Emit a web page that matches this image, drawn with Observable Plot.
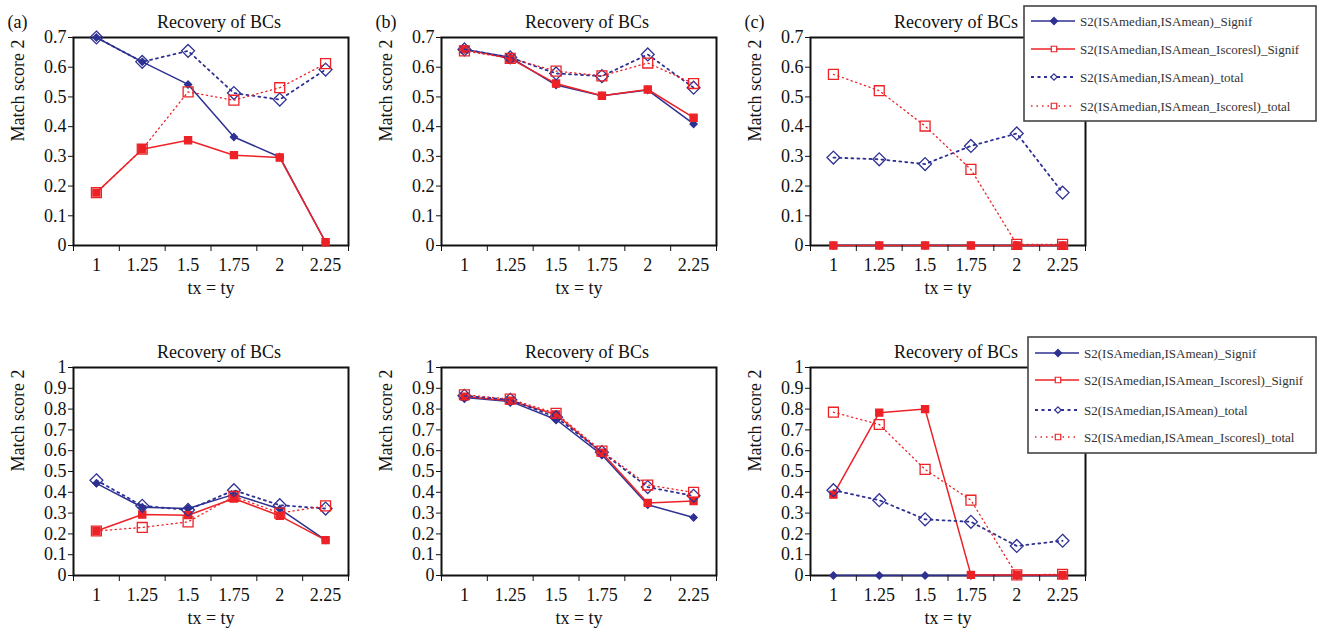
<!DOCTYPE html>
<html><head><meta charset="utf-8">
<script src="https://cdn.jsdelivr.net/npm/d3@7"></script>
<script src="https://cdn.jsdelivr.net/npm/@observablehq/plot@0.6"></script>
<style>
body{margin:0;background:#fff;font-family:"Liberation Serif","DejaVu Serif","Times New Roman",Times,serif;}
#chart{position:relative;width:1318px;height:632px;overflow:hidden;background:#fff;}
#chart svg, #chart svg text{font-family:"Liberation Serif","DejaVu Serif","Times New Roman",Times,serif !important;}
</style></head><body><div id="chart"></div>
<script>
// ---------- data ----------
const xCats = [1, 1.25, 1.5, 1.75, 2, 2.25];
const xTickLabels = ["1", "1.25", "1.5", "1.75", "2", "2.25"];
const yTicksTop = [0, 0.1, 0.2, 0.3, 0.4, 0.5, 0.6, 0.7];
const yTicksBottom = [0, 0.1, 0.2, 0.3, 0.4, 0.5, 0.6, 0.7, 0.8, 0.9, 1];
const seriesNames = [
  "S2(ISAmedian,ISAmean)_Signif",
  "S2(ISAmedian,ISAmean_Iscoresl)_Signif",
  "S2(ISAmedian,ISAmean)_total",
  "S2(ISAmedian,ISAmean_Iscoresl)_total"
];
const panelLabels = ["(a)", "(b)", "(c)"];
const chartTitle = "Recovery of BCs";
const xLabel = "tx = ty";
const yLabel = "Match score 2";

const a_meanSignif = [0.70, 0.618, 0.542, 0.365, 0.298, 0.011];
const a_iscSignif  = [0.178, 0.324, 0.354, 0.304, 0.296, 0.011];
const a_meanTotal  = [0.70, 0.618, 0.655, 0.513, 0.491, 0.592];
const a_iscTotal   = [0.178, 0.324, 0.517, 0.489, 0.531, 0.612];

const b_meanSignif = [0.66, 0.633, 0.54, 0.504, 0.523, 0.409];
const b_iscSignif  = [0.66, 0.629, 0.545, 0.504, 0.525, 0.43];
const b_meanTotal  = [0.66, 0.633, 0.579, 0.57, 0.643, 0.531];
const b_iscTotal   = [0.655, 0.63, 0.587, 0.571, 0.614, 0.545];

const c_meanSignif = [0, 0, 0, 0, 0, 0];
const c_iscSignif  = [0, 0, 0, 0, 0, 0];
const c_meanTotal  = [0.296, 0.29, 0.274, 0.335, 0.377, 0.178];
const c_iscTotal   = [0.576, 0.521, 0.402, 0.256, 0.004, 0.004];

const d_meanSignif = [0.443, 0.328, 0.322, 0.39, 0.32, 0.17];
const d_iscSignif  = [0.214, 0.293, 0.29, 0.37, 0.287, 0.17];
const d_meanTotal  = [0.458, 0.335, 0.315, 0.41, 0.338, 0.322];
const d_iscTotal   = [0.214, 0.231, 0.258, 0.38, 0.30, 0.335];

const e_meanSignif = [0.856, 0.837, 0.75, 0.58, 0.34, 0.279];
const e_iscSignif  = [0.86, 0.84, 0.774, 0.59, 0.349, 0.358];
const e_meanTotal  = [0.864, 0.845, 0.761, 0.593, 0.425, 0.383];
const e_iscTotal   = [0.869, 0.848, 0.78, 0.598, 0.435, 0.4];

const f_meanSignif = [0, 0, 0, 0, 0, 0];
const f_iscSignif  = [0.389, 0.783, 0.80, 0.003, 0.003, 0.003];
const f_meanTotal  = [0.41, 0.362, 0.27, 0.258, 0.142, 0.167];
const f_iscTotal   = [0.785, 0.726, 0.51, 0.362, 0.003, 0.006];

// ---------- styles ----------
const BLUE = "#2e3192", RED = "#ec2227";
const FONT = '"Liberation Serif","DejaVu Serif","Times New Roman",Times,serif';
const styles = [
  {color: BLUE, width: 1.5, dash: null, symbol: "diamond2", r: 3.2, filled: true},
  {color: RED, width: 1.5, dash: null, symbol: "square", r: 4.0, filled: true},
  {color: BLUE, width: 1.8, dash: "2,4", symbol: "diamond2", r: 5.8, filled: false},
  {color: RED, width: 1.3, dash: "1.2,3.5", symbol: "square", r: 5.6, filled: false}
];

const chart = document.getElementById("chart");
const xBounds = xCats.map(v => v - 0.125).concat([xCats[xCats.length - 1] + 0.125]);

function panel({series, left, top, height, yMax, yTicks, label}) {
  const marks = [Plot.frame({stroke: "#111", strokeWidth: 2})];
  series.forEach((vals, k) => {
    const st = styles[k];
    const rows = xCats.map((x, i) => ({x, y: vals[i]}));
    marks.push(Plot.line(rows, {x: "x", y: "y", stroke: st.color, strokeWidth: st.width, strokeDasharray: st.dash}));
    marks.push(Plot.dot(rows, {x: "x", y: "y", symbol: st.symbol, r: st.r,
      fill: st.filled ? st.color : "none", stroke: st.color, strokeWidth: 1.3}));
  });
  marks.push(
    Plot.axisY({ticks: yTicks, tickSize: 5, tickPadding: 2, tickFormat: d => String(d), label: null, fontSize: 18}),
    Plot.axisX({ticks: xBounds, tickSize: 6, tickFormat: () => "", label: null}),
    Plot.axisX({ticks: xCats, tickSize: 0, tickPadding: 13, tickFormat: d => xTickLabels[xCats.indexOf(d)], label: null, fontSize: 18}),
    Plot.text([chartTitle], {frameAnchor: "top", dy: -22, dx: 8, fontSize: 18}),
    Plot.text([xLabel], {frameAnchor: "bottom", dy: 48, fontSize: 18}),
    Plot.text([yLabel], {frameAnchor: "left", dx: -55, rotate: -90, fontSize: 18})
  );
  if (label) marks.push(Plot.text([label], {frameAnchor: "top-left", dx: -66, dy: -22, textAnchor: "start", fontSize: 18}));
  const svg = Plot.plot({
    width: 368, height,
    marginLeft: 73, marginRight: 20, marginTop: 37, marginBottom: height - 37 - 208,
    x: {domain: [xBounds[0], xBounds[xBounds.length - 1]]},
    y: {domain: [0, yMax]},
    style: {fontFamily: FONT, fontSize: "18px", color: "#111", background: "transparent", overflow: "visible"},
    marks
  });
  svg.style.position = "absolute";
  svg.style.left = left + "px";
  svg.style.top = top + "px";
  chart.appendChild(svg);
}

function drawLegend(x, y, w, h, rowsY) {
  const svg = d3.create("svg").attr("width", w + 4).attr("height", h + 4)
    .style("position", "absolute").style("left", (x - 2) + "px").style("top", (y - 2) + "px");
  const g = svg.append("g").attr("transform", "translate(2,2)");
  g.append("rect").attr("width", w).attr("height", h).attr("fill", "#fff").attr("stroke", "#444").attr("stroke-width", 1.6);
  seriesNames.forEach((name, k) => {
    const st = styles[k];
    const yy = rowsY[k];
    g.append("line").attr("x1", 7).attr("x2", 51).attr("y1", yy).attr("y2", yy)
      .attr("stroke", st.color).attr("stroke-width", k === 2 ? 2.2 : 1.5)
      .attr("stroke-dasharray", k === 2 ? "3,3.5" : k === 3 ? "1.5,4" : null);
    const sym = st.symbol === "diamond2" ? d3.symbolDiamond2 : d3.symbolSquare;
    const size = k === 0 ? 32 : k === 2 ? 26 : 30;
    g.append("path").attr("d", d3.symbol(sym, size)()).attr("transform", `translate(30,${yy})`)
      .attr("fill", k === 0 ? st.color : "#fff").attr("stroke", st.color).attr("stroke-width", 1.2);
    g.append("text").attr("x", 56).attr("y", yy).attr("dy", "0.35em")
      .style("font-family", FONT).attr("font-size", 13).attr("fill", "#333").text(name);
  });
  chart.appendChild(svg.node());
}

const topH = 316, botH = 302;
panel({series: [a_meanSignif, a_iscSignif, a_meanTotal, a_iscTotal], left: 0, top: 0, height: topH, yMax: 0.7, yTicks: yTicksTop, label: panelLabels[0]});
panel({series: [b_meanSignif, b_iscSignif, b_meanTotal, b_iscTotal], left: 368, top: 0, height: topH, yMax: 0.7, yTicks: yTicksTop, label: panelLabels[1]});
panel({series: [c_meanSignif, c_iscSignif, c_meanTotal, c_iscTotal], left: 737, top: 0, height: topH, yMax: 0.7, yTicks: yTicksTop, label: panelLabels[2]});
panel({series: [d_meanSignif, d_iscSignif, d_meanTotal, d_iscTotal], left: 0, top: 330, height: botH, yMax: 1, yTicks: yTicksBottom});
panel({series: [e_meanSignif, e_iscSignif, e_meanTotal, e_iscTotal], left: 368, top: 330, height: botH, yMax: 1, yTicks: yTicksBottom});
panel({series: [f_meanSignif, f_iscSignif, f_meanTotal, f_iscTotal], left: 737, top: 330, height: botH, yMax: 1, yTicks: yTicksBottom});
drawLegend(1024, 6, 292, 115, [15, 43, 71, 100]);
drawLegend(1028, 337, 288, 116, [16, 43, 73, 100]);
</script></body></html>
